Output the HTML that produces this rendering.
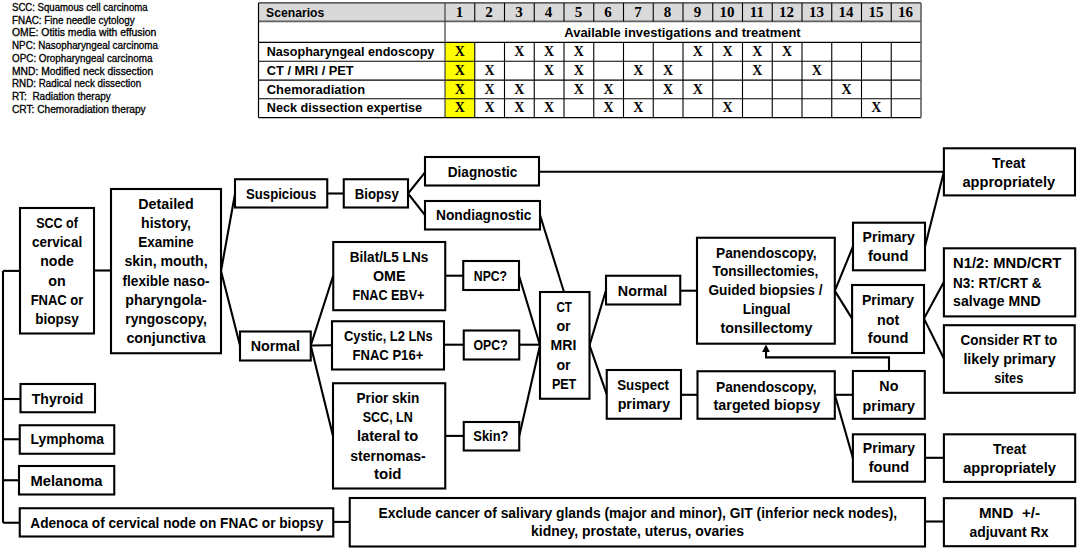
<!DOCTYPE html>
<html><head><meta charset="utf-8"><style>
html,body{margin:0;padding:0;background:#fff;}
body{width:1077px;height:548px;overflow:hidden;font-family:"Liberation Sans", sans-serif;}
svg{display:block;}
</style></head><body>
<svg width="1077" height="548" viewBox="0 0 1077 548">
<text x="12.00" y="11.00" text-anchor="start" font-size="10" font-weight="normal" font-family='"Liberation Sans", sans-serif' fill="#000" textLength="135.60" lengthAdjust="spacingAndGlyphs" stroke="#000" stroke-width="0.3" xml:space="preserve">SCC: Squamous cell carcinoma</text>
<text x="12.00" y="23.73" text-anchor="start" font-size="10" font-weight="normal" font-family='"Liberation Sans", sans-serif' fill="#000" textLength="122.60" lengthAdjust="spacingAndGlyphs" stroke="#000" stroke-width="0.3" xml:space="preserve">FNAC: Fine needle cytology</text>
<text x="12.00" y="36.46" text-anchor="start" font-size="10" font-weight="normal" font-family='"Liberation Sans", sans-serif' fill="#000" textLength="144.30" lengthAdjust="spacingAndGlyphs" stroke="#000" stroke-width="0.3" xml:space="preserve">OME: Otitis media with effusion</text>
<text x="12.00" y="49.19" text-anchor="start" font-size="10" font-weight="normal" font-family='"Liberation Sans", sans-serif' fill="#000" textLength="146.00" lengthAdjust="spacingAndGlyphs" stroke="#000" stroke-width="0.3" xml:space="preserve">NPC: Nasopharyngeal carcinoma</text>
<text x="12.00" y="61.92" text-anchor="start" font-size="10" font-weight="normal" font-family='"Liberation Sans", sans-serif' fill="#000" textLength="140.40" lengthAdjust="spacingAndGlyphs" stroke="#000" stroke-width="0.3" xml:space="preserve">OPC: Oropharyngeal carcinoma</text>
<text x="12.00" y="74.65" text-anchor="start" font-size="10" font-weight="normal" font-family='"Liberation Sans", sans-serif' fill="#000" textLength="141.30" lengthAdjust="spacingAndGlyphs" stroke="#000" stroke-width="0.3" xml:space="preserve">MND: Modified neck dissection</text>
<text x="12.00" y="87.38" text-anchor="start" font-size="10" font-weight="normal" font-family='"Liberation Sans", sans-serif' fill="#000" textLength="129.20" lengthAdjust="spacingAndGlyphs" stroke="#000" stroke-width="0.3" xml:space="preserve">RND: Radical neck dissection</text>
<text x="12.00" y="100.11" text-anchor="start" font-size="10" font-weight="normal" font-family='"Liberation Sans", sans-serif' fill="#000" textLength="98.80" lengthAdjust="spacingAndGlyphs" stroke="#000" stroke-width="0.3" xml:space="preserve">RT:  Radiation therapy</text>
<text x="12.00" y="112.84" text-anchor="start" font-size="10" font-weight="normal" font-family='"Liberation Sans", sans-serif' fill="#000" textLength="133.70" lengthAdjust="spacingAndGlyphs" stroke="#000" stroke-width="0.3" xml:space="preserve">CRT: Chemoradiation therapy</text>
<rect x="258.5" y="2.9" width="662.5" height="18.5" fill="#d9d9d9"/>
<rect x="445" y="42.4" width="29.75" height="75.19999999999999" fill="#ffff00"/>
<line x1="258.5" y1="2.9" x2="921" y2="2.9" stroke="#606060" stroke-width="1.9"/>
<line x1="258.5" y1="21.4" x2="921" y2="21.4" stroke="#606060" stroke-width="1.9"/>
<line x1="258.5" y1="42.4" x2="921" y2="42.4" stroke="#000" stroke-width="1.1"/>
<line x1="258.5" y1="61.3" x2="921" y2="61.3" stroke="#000" stroke-width="1.1"/>
<line x1="258.5" y1="80.1" x2="921" y2="80.1" stroke="#000" stroke-width="1.1"/>
<line x1="258.5" y1="98.8" x2="921" y2="98.8" stroke="#000" stroke-width="1.1"/>
<line x1="258.5" y1="117.6" x2="921" y2="117.6" stroke="#000" stroke-width="1.1"/>
<line x1="258.5" y1="2.9" x2="258.5" y2="117.6" stroke="#000" stroke-width="1.2"/>
<line x1="445" y1="2.9" x2="445" y2="117.6" stroke="#404040" stroke-width="1.2"/>
<line x1="921" y1="2.9" x2="921" y2="117.6" stroke="#606060" stroke-width="1.6"/>
<line x1="474.75" y1="2.9" x2="474.75" y2="21.4" stroke="#000" stroke-width="1.1"/>
<line x1="474.75" y1="42.4" x2="474.75" y2="117.6" stroke="#000" stroke-width="1.1"/>
<line x1="504.50" y1="2.9" x2="504.50" y2="21.4" stroke="#000" stroke-width="1.1"/>
<line x1="504.50" y1="42.4" x2="504.50" y2="117.6" stroke="#000" stroke-width="1.1"/>
<line x1="534.25" y1="2.9" x2="534.25" y2="21.4" stroke="#000" stroke-width="1.1"/>
<line x1="534.25" y1="42.4" x2="534.25" y2="117.6" stroke="#000" stroke-width="1.1"/>
<line x1="564.00" y1="2.9" x2="564.00" y2="21.4" stroke="#000" stroke-width="1.1"/>
<line x1="564.00" y1="42.4" x2="564.00" y2="117.6" stroke="#000" stroke-width="1.1"/>
<line x1="593.75" y1="2.9" x2="593.75" y2="21.4" stroke="#000" stroke-width="1.1"/>
<line x1="593.75" y1="42.4" x2="593.75" y2="117.6" stroke="#000" stroke-width="1.1"/>
<line x1="623.50" y1="2.9" x2="623.50" y2="21.4" stroke="#000" stroke-width="1.1"/>
<line x1="623.50" y1="42.4" x2="623.50" y2="117.6" stroke="#000" stroke-width="1.1"/>
<line x1="653.25" y1="2.9" x2="653.25" y2="21.4" stroke="#000" stroke-width="1.1"/>
<line x1="653.25" y1="42.4" x2="653.25" y2="117.6" stroke="#000" stroke-width="1.1"/>
<line x1="683.00" y1="2.9" x2="683.00" y2="21.4" stroke="#000" stroke-width="1.1"/>
<line x1="683.00" y1="42.4" x2="683.00" y2="117.6" stroke="#000" stroke-width="1.1"/>
<line x1="712.75" y1="2.9" x2="712.75" y2="21.4" stroke="#000" stroke-width="1.1"/>
<line x1="712.75" y1="42.4" x2="712.75" y2="117.6" stroke="#000" stroke-width="1.1"/>
<line x1="742.50" y1="2.9" x2="742.50" y2="21.4" stroke="#000" stroke-width="1.1"/>
<line x1="742.50" y1="42.4" x2="742.50" y2="117.6" stroke="#000" stroke-width="1.1"/>
<line x1="772.25" y1="2.9" x2="772.25" y2="21.4" stroke="#000" stroke-width="1.1"/>
<line x1="772.25" y1="42.4" x2="772.25" y2="117.6" stroke="#000" stroke-width="1.1"/>
<line x1="802.00" y1="2.9" x2="802.00" y2="21.4" stroke="#000" stroke-width="1.1"/>
<line x1="802.00" y1="42.4" x2="802.00" y2="117.6" stroke="#000" stroke-width="1.1"/>
<line x1="831.75" y1="2.9" x2="831.75" y2="21.4" stroke="#000" stroke-width="1.1"/>
<line x1="831.75" y1="42.4" x2="831.75" y2="117.6" stroke="#000" stroke-width="1.1"/>
<line x1="861.50" y1="2.9" x2="861.50" y2="21.4" stroke="#000" stroke-width="1.1"/>
<line x1="861.50" y1="42.4" x2="861.50" y2="117.6" stroke="#000" stroke-width="1.1"/>
<line x1="891.25" y1="2.9" x2="891.25" y2="21.4" stroke="#000" stroke-width="1.1"/>
<line x1="891.25" y1="42.4" x2="891.25" y2="117.6" stroke="#000" stroke-width="1.1"/>
<text x="266.00" y="16.70" text-anchor="start" font-size="12.8" font-weight="bold" font-family='"Liberation Sans", sans-serif' fill="#000" textLength="58.30" lengthAdjust="spacingAndGlyphs" xml:space="preserve">Scenarios</text>
<text x="564.30" y="37.00" text-anchor="start" font-size="12.8" font-weight="bold" font-family='"Liberation Sans", sans-serif' fill="#000" textLength="236.40" lengthAdjust="spacingAndGlyphs" xml:space="preserve">Available investigations and treatment</text>
<text x="266.80" y="55.90" text-anchor="start" font-size="12.8" font-weight="bold" font-family='"Liberation Sans", sans-serif' fill="#000" textLength="167.50" lengthAdjust="spacingAndGlyphs" xml:space="preserve">Nasopharyngeal endoscopy</text>
<text x="266.80" y="74.80" text-anchor="start" font-size="12.8" font-weight="bold" font-family='"Liberation Sans", sans-serif' fill="#000" textLength="86.90" lengthAdjust="spacingAndGlyphs" xml:space="preserve">CT / MRI / PET</text>
<text x="266.80" y="94.00" text-anchor="start" font-size="12.8" font-weight="bold" font-family='"Liberation Sans", sans-serif' fill="#000" textLength="98.30" lengthAdjust="spacingAndGlyphs" xml:space="preserve">Chemoradiation</text>
<text x="266.80" y="112.40" text-anchor="start" font-size="12.8" font-weight="bold" font-family='"Liberation Sans", sans-serif' fill="#000" textLength="155.20" lengthAdjust="spacingAndGlyphs" xml:space="preserve">Neck dissection expertise</text>
<text x="459.38" y="16.90" text-anchor="middle" font-size="15" font-weight="bold" font-family='"Liberation Serif", serif' fill="#000" xml:space="preserve">1</text>
<text x="489.12" y="16.90" text-anchor="middle" font-size="15" font-weight="bold" font-family='"Liberation Serif", serif' fill="#000" xml:space="preserve">2</text>
<text x="518.88" y="16.90" text-anchor="middle" font-size="15" font-weight="bold" font-family='"Liberation Serif", serif' fill="#000" xml:space="preserve">3</text>
<text x="548.62" y="16.90" text-anchor="middle" font-size="15" font-weight="bold" font-family='"Liberation Serif", serif' fill="#000" xml:space="preserve">4</text>
<text x="578.38" y="16.90" text-anchor="middle" font-size="15" font-weight="bold" font-family='"Liberation Serif", serif' fill="#000" xml:space="preserve">5</text>
<text x="608.12" y="16.90" text-anchor="middle" font-size="15" font-weight="bold" font-family='"Liberation Serif", serif' fill="#000" xml:space="preserve">6</text>
<text x="637.88" y="16.90" text-anchor="middle" font-size="15" font-weight="bold" font-family='"Liberation Serif", serif' fill="#000" xml:space="preserve">7</text>
<text x="667.62" y="16.90" text-anchor="middle" font-size="15" font-weight="bold" font-family='"Liberation Serif", serif' fill="#000" xml:space="preserve">8</text>
<text x="697.38" y="16.90" text-anchor="middle" font-size="15" font-weight="bold" font-family='"Liberation Serif", serif' fill="#000" xml:space="preserve">9</text>
<text x="727.12" y="16.90" text-anchor="middle" font-size="15" font-weight="bold" font-family='"Liberation Serif", serif' fill="#000" xml:space="preserve">10</text>
<text x="756.88" y="16.90" text-anchor="middle" font-size="15" font-weight="bold" font-family='"Liberation Serif", serif' fill="#000" xml:space="preserve">11</text>
<text x="786.62" y="16.90" text-anchor="middle" font-size="15" font-weight="bold" font-family='"Liberation Serif", serif' fill="#000" xml:space="preserve">12</text>
<text x="816.38" y="16.90" text-anchor="middle" font-size="15" font-weight="bold" font-family='"Liberation Serif", serif' fill="#000" xml:space="preserve">13</text>
<text x="846.12" y="16.90" text-anchor="middle" font-size="15" font-weight="bold" font-family='"Liberation Serif", serif' fill="#000" xml:space="preserve">14</text>
<text x="875.88" y="16.90" text-anchor="middle" font-size="15" font-weight="bold" font-family='"Liberation Serif", serif' fill="#000" xml:space="preserve">15</text>
<text x="905.62" y="16.90" text-anchor="middle" font-size="15" font-weight="bold" font-family='"Liberation Serif", serif' fill="#000" xml:space="preserve">16</text>
<text x="459.88" y="55.80" text-anchor="middle" font-size="14" font-weight="bold" font-family='"Liberation Serif", serif' fill="#000" xml:space="preserve">X</text>
<text x="519.38" y="55.80" text-anchor="middle" font-size="14" font-weight="bold" font-family='"Liberation Serif", serif' fill="#000" xml:space="preserve">X</text>
<text x="549.12" y="55.80" text-anchor="middle" font-size="14" font-weight="bold" font-family='"Liberation Serif", serif' fill="#000" xml:space="preserve">X</text>
<text x="578.88" y="55.80" text-anchor="middle" font-size="14" font-weight="bold" font-family='"Liberation Serif", serif' fill="#000" xml:space="preserve">X</text>
<text x="697.88" y="55.80" text-anchor="middle" font-size="14" font-weight="bold" font-family='"Liberation Serif", serif' fill="#000" xml:space="preserve">X</text>
<text x="727.62" y="55.80" text-anchor="middle" font-size="14" font-weight="bold" font-family='"Liberation Serif", serif' fill="#000" xml:space="preserve">X</text>
<text x="757.38" y="55.80" text-anchor="middle" font-size="14" font-weight="bold" font-family='"Liberation Serif", serif' fill="#000" xml:space="preserve">X</text>
<text x="787.12" y="55.80" text-anchor="middle" font-size="14" font-weight="bold" font-family='"Liberation Serif", serif' fill="#000" xml:space="preserve">X</text>
<text x="459.88" y="74.70" text-anchor="middle" font-size="14" font-weight="bold" font-family='"Liberation Serif", serif' fill="#000" xml:space="preserve">X</text>
<text x="489.62" y="74.70" text-anchor="middle" font-size="14" font-weight="bold" font-family='"Liberation Serif", serif' fill="#000" xml:space="preserve">X</text>
<text x="549.12" y="74.70" text-anchor="middle" font-size="14" font-weight="bold" font-family='"Liberation Serif", serif' fill="#000" xml:space="preserve">X</text>
<text x="578.88" y="74.70" text-anchor="middle" font-size="14" font-weight="bold" font-family='"Liberation Serif", serif' fill="#000" xml:space="preserve">X</text>
<text x="638.38" y="74.70" text-anchor="middle" font-size="14" font-weight="bold" font-family='"Liberation Serif", serif' fill="#000" xml:space="preserve">X</text>
<text x="668.12" y="74.70" text-anchor="middle" font-size="14" font-weight="bold" font-family='"Liberation Serif", serif' fill="#000" xml:space="preserve">X</text>
<text x="757.38" y="74.70" text-anchor="middle" font-size="14" font-weight="bold" font-family='"Liberation Serif", serif' fill="#000" xml:space="preserve">X</text>
<text x="816.88" y="74.70" text-anchor="middle" font-size="14" font-weight="bold" font-family='"Liberation Serif", serif' fill="#000" xml:space="preserve">X</text>
<text x="459.88" y="93.50" text-anchor="middle" font-size="14" font-weight="bold" font-family='"Liberation Serif", serif' fill="#000" xml:space="preserve">X</text>
<text x="489.62" y="93.50" text-anchor="middle" font-size="14" font-weight="bold" font-family='"Liberation Serif", serif' fill="#000" xml:space="preserve">X</text>
<text x="519.38" y="93.50" text-anchor="middle" font-size="14" font-weight="bold" font-family='"Liberation Serif", serif' fill="#000" xml:space="preserve">X</text>
<text x="578.88" y="93.50" text-anchor="middle" font-size="14" font-weight="bold" font-family='"Liberation Serif", serif' fill="#000" xml:space="preserve">X</text>
<text x="608.62" y="93.50" text-anchor="middle" font-size="14" font-weight="bold" font-family='"Liberation Serif", serif' fill="#000" xml:space="preserve">X</text>
<text x="668.12" y="93.50" text-anchor="middle" font-size="14" font-weight="bold" font-family='"Liberation Serif", serif' fill="#000" xml:space="preserve">X</text>
<text x="697.88" y="93.50" text-anchor="middle" font-size="14" font-weight="bold" font-family='"Liberation Serif", serif' fill="#000" xml:space="preserve">X</text>
<text x="846.62" y="93.50" text-anchor="middle" font-size="14" font-weight="bold" font-family='"Liberation Serif", serif' fill="#000" xml:space="preserve">X</text>
<text x="459.88" y="112.20" text-anchor="middle" font-size="14" font-weight="bold" font-family='"Liberation Serif", serif' fill="#000" xml:space="preserve">X</text>
<text x="489.62" y="112.20" text-anchor="middle" font-size="14" font-weight="bold" font-family='"Liberation Serif", serif' fill="#000" xml:space="preserve">X</text>
<text x="519.38" y="112.20" text-anchor="middle" font-size="14" font-weight="bold" font-family='"Liberation Serif", serif' fill="#000" xml:space="preserve">X</text>
<text x="549.12" y="112.20" text-anchor="middle" font-size="14" font-weight="bold" font-family='"Liberation Serif", serif' fill="#000" xml:space="preserve">X</text>
<text x="608.62" y="112.20" text-anchor="middle" font-size="14" font-weight="bold" font-family='"Liberation Serif", serif' fill="#000" xml:space="preserve">X</text>
<text x="638.38" y="112.20" text-anchor="middle" font-size="14" font-weight="bold" font-family='"Liberation Serif", serif' fill="#000" xml:space="preserve">X</text>
<text x="727.62" y="112.20" text-anchor="middle" font-size="14" font-weight="bold" font-family='"Liberation Serif", serif' fill="#000" xml:space="preserve">X</text>
<text x="876.38" y="112.20" text-anchor="middle" font-size="14" font-weight="bold" font-family='"Liberation Serif", serif' fill="#000" xml:space="preserve">X</text>
<polyline points="3,270.9 3,522.75" fill="none" stroke="#000" stroke-width="2.1" stroke-linejoin="miter"/>
<polyline points="3,270.9 20,270.9" fill="none" stroke="#000" stroke-width="2.1" stroke-linejoin="miter"/>
<polyline points="3,399 20.5,399" fill="none" stroke="#000" stroke-width="2.1" stroke-linejoin="miter"/>
<polyline points="3,439.25 19.75,439.25" fill="none" stroke="#000" stroke-width="2.1" stroke-linejoin="miter"/>
<polyline points="3,480.25 19,480.25" fill="none" stroke="#000" stroke-width="2.1" stroke-linejoin="miter"/>
<polyline points="3,522.75 19.75,522.75" fill="none" stroke="#000" stroke-width="2.1" stroke-linejoin="miter"/>
<polyline points="94,270.5 111,270.5" fill="none" stroke="#000" stroke-width="2.1" stroke-linejoin="miter"/>
<polyline points="235,194 221,271 240,345.5" fill="none" stroke="#000" stroke-width="2.1" stroke-linejoin="miter"/>
<polyline points="327.25,193.5 343.75,193.5" fill="none" stroke="#000" stroke-width="2.1" stroke-linejoin="miter"/>
<polyline points="425,172.3 408,193.5 425,215.2" fill="none" stroke="#000" stroke-width="2.1" stroke-linejoin="miter"/>
<polyline points="539,171.8 943.9,171.8" fill="none" stroke="#000" stroke-width="2.1" stroke-linejoin="miter"/>
<polyline points="540,215 564,292" fill="none" stroke="#000" stroke-width="2.1" stroke-linejoin="miter"/>
<polyline points="333.25,275.5 310.75,345.5 333,435.9" fill="none" stroke="#000" stroke-width="2.1" stroke-linejoin="miter"/>
<polyline points="310.75,345.5 332,345.2" fill="none" stroke="#000" stroke-width="2.1" stroke-linejoin="miter"/>
<polyline points="445.25,275.7 463.25,275.7" fill="none" stroke="#000" stroke-width="2.1" stroke-linejoin="miter"/>
<polyline points="444,344.7 463.75,344.7" fill="none" stroke="#000" stroke-width="2.1" stroke-linejoin="miter"/>
<polyline points="445.25,435.9 463.75,435.9" fill="none" stroke="#000" stroke-width="2.1" stroke-linejoin="miter"/>
<polyline points="519,275.7 540,345.3 519.25,436" fill="none" stroke="#000" stroke-width="2.1" stroke-linejoin="miter"/>
<polyline points="519.25,344.7 540,344.7" fill="none" stroke="#000" stroke-width="2.1" stroke-linejoin="miter"/>
<polyline points="606,290.2 589.5,345.3 606.75,394.4" fill="none" stroke="#000" stroke-width="2.1" stroke-linejoin="miter"/>
<polyline points="680.25,290.7 697,290.7" fill="none" stroke="#000" stroke-width="2.1" stroke-linejoin="miter"/>
<polyline points="681,394.8 697.5,394.8" fill="none" stroke="#000" stroke-width="2.1" stroke-linejoin="miter"/>
<polyline points="853,246.5 834.8,290.8 852.1,318.6" fill="none" stroke="#000" stroke-width="2.1" stroke-linejoin="miter"/>
<polyline points="925,246.5 943.9,171.8" fill="none" stroke="#000" stroke-width="2.1" stroke-linejoin="miter"/>
<polyline points="944,281.8 924,318.6 944,358.8" fill="none" stroke="#000" stroke-width="2.1" stroke-linejoin="miter"/>
<polyline points="834.8,394.8 852.9,394.8" fill="none" stroke="#000" stroke-width="2.1" stroke-linejoin="miter"/>
<polyline points="834.8,394.8 852.9,458" fill="none" stroke="#000" stroke-width="2.1" stroke-linejoin="miter"/>
<polyline points="925,457.8 943.9,457.8" fill="none" stroke="#000" stroke-width="2.1" stroke-linejoin="miter"/>
<polyline points="889,371 889,357.4 766,357.4 766,350" fill="none" stroke="#000" stroke-width="2.1" stroke-linejoin="miter"/>
<polygon points="766,344.6 762.1,351.9 769.9,351.9" fill="#000"/>
<polyline points="333.25,521.9 349.75,521.9" fill="none" stroke="#000" stroke-width="2.1" stroke-linejoin="miter"/>
<polyline points="925,521.5 943.9,521.5" fill="none" stroke="#000" stroke-width="2.1" stroke-linejoin="miter"/>
<rect x="20" y="208" width="74.00" height="125.50" fill="#fff" stroke="#000" stroke-width="2.1"/>
<rect x="111" y="189" width="110.00" height="164.25" fill="#fff" stroke="#000" stroke-width="2.1"/>
<rect x="235" y="179.25" width="92.25" height="28.25" fill="#fff" stroke="#000" stroke-width="2.1"/>
<rect x="343.75" y="179.25" width="64.25" height="28.25" fill="#fff" stroke="#000" stroke-width="2.1"/>
<rect x="425" y="157" width="114.00" height="28.50" fill="#fff" stroke="#000" stroke-width="2.1"/>
<rect x="425" y="201" width="115.00" height="28.50" fill="#fff" stroke="#000" stroke-width="2.1"/>
<rect x="240" y="331.5" width="70.75" height="29.00" fill="#fff" stroke="#000" stroke-width="2.1"/>
<rect x="333.25" y="242" width="112.00" height="68.20" fill="#fff" stroke="#000" stroke-width="2.1"/>
<rect x="463.25" y="261" width="55.75" height="29.00" fill="#fff" stroke="#000" stroke-width="2.1"/>
<rect x="332" y="321.25" width="112.00" height="48.25" fill="#fff" stroke="#000" stroke-width="2.1"/>
<rect x="463.75" y="330.5" width="55.50" height="29.00" fill="#fff" stroke="#000" stroke-width="2.1"/>
<rect x="333" y="383.25" width="112.25" height="105.25" fill="#fff" stroke="#000" stroke-width="2.1"/>
<rect x="463.75" y="422" width="55.50" height="28.50" fill="#fff" stroke="#000" stroke-width="2.1"/>
<rect x="540" y="292" width="49.50" height="106.75" fill="#fff" stroke="#000" stroke-width="2.1"/>
<rect x="606" y="275.75" width="74.25" height="28.75" fill="#fff" stroke="#000" stroke-width="2.1"/>
<rect x="697" y="237.75" width="137.80" height="105.95" fill="#fff" stroke="#000" stroke-width="2.1"/>
<rect x="606.75" y="370" width="74.25" height="48.75" fill="#fff" stroke="#000" stroke-width="2.1"/>
<rect x="697.5" y="371.25" width="137.30" height="47.50" fill="#fff" stroke="#000" stroke-width="2.1"/>
<rect x="853" y="222.7" width="72.00" height="47.60" fill="#fff" stroke="#000" stroke-width="2.1"/>
<rect x="852.1" y="285" width="71.90" height="68.00" fill="#fff" stroke="#000" stroke-width="2.1"/>
<rect x="852.9" y="371" width="71.90" height="47.80" fill="#fff" stroke="#000" stroke-width="2.1"/>
<rect x="852.9" y="434.3" width="72.10" height="47.40" fill="#fff" stroke="#000" stroke-width="2.1"/>
<rect x="943.9" y="148.3" width="131.10" height="47.10" fill="#fff" stroke="#000" stroke-width="2.1"/>
<rect x="943.9" y="248.3" width="131.30" height="68.10" fill="#fff" stroke="#000" stroke-width="2.1"/>
<rect x="943.9" y="325.2" width="130.80" height="67.60" fill="#fff" stroke="#000" stroke-width="2.1"/>
<rect x="943.9" y="434.3" width="131.30" height="47.60" fill="#fff" stroke="#000" stroke-width="2.1"/>
<rect x="943.9" y="498.2" width="131.30" height="48.00" fill="#fff" stroke="#000" stroke-width="2.1"/>
<rect x="349.75" y="498" width="575.25" height="48.50" fill="#fff" stroke="#000" stroke-width="2.1"/>
<rect x="20.5" y="384" width="74.50" height="28.25" fill="#fff" stroke="#000" stroke-width="2.1"/>
<rect x="19.75" y="425.25" width="94.50" height="28.50" fill="#fff" stroke="#000" stroke-width="2.1"/>
<rect x="19" y="466" width="95.25" height="28.50" fill="#fff" stroke="#000" stroke-width="2.1"/>
<rect x="19.75" y="508.25" width="313.50" height="28.25" fill="#fff" stroke="#000" stroke-width="2.1"/>
<text x="57.00" y="228.00" text-anchor="middle" font-size="14.3" font-weight="bold" font-family='"Liberation Sans", sans-serif' fill="#000" textLength="41.75" lengthAdjust="spacingAndGlyphs" xml:space="preserve">SCC of</text>
<text x="57.00" y="247.00" text-anchor="middle" font-size="14.3" font-weight="bold" font-family='"Liberation Sans", sans-serif' fill="#000" textLength="50.25" lengthAdjust="spacingAndGlyphs" xml:space="preserve">cervical</text>
<text x="57.00" y="265.80" text-anchor="middle" font-size="14.3" font-weight="bold" font-family='"Liberation Sans", sans-serif' fill="#000" textLength="33.50" lengthAdjust="spacingAndGlyphs" xml:space="preserve">node</text>
<text x="57.00" y="286.30" text-anchor="middle" font-size="14.3" font-weight="bold" font-family='"Liberation Sans", sans-serif' fill="#000" xml:space="preserve">on</text>
<text x="57.00" y="304.50" text-anchor="middle" font-size="14.3" font-weight="bold" font-family='"Liberation Sans", sans-serif' fill="#000" textLength="52.75" lengthAdjust="spacingAndGlyphs" xml:space="preserve">FNAC or</text>
<text x="57.00" y="323.75" text-anchor="middle" font-size="14.3" font-weight="bold" font-family='"Liberation Sans", sans-serif' fill="#000" textLength="43.75" lengthAdjust="spacingAndGlyphs" xml:space="preserve">biopsy</text>
<text x="166.00" y="208.80" text-anchor="middle" font-size="14.3" font-weight="bold" font-family='"Liberation Sans", sans-serif' fill="#000" textLength="55.50" lengthAdjust="spacingAndGlyphs" xml:space="preserve">Detailed</text>
<text x="166.00" y="228.00" text-anchor="middle" font-size="14.3" font-weight="bold" font-family='"Liberation Sans", sans-serif' fill="#000" textLength="50.00" lengthAdjust="spacingAndGlyphs" xml:space="preserve">history,</text>
<text x="166.00" y="247.20" text-anchor="middle" font-size="14.3" font-weight="bold" font-family='"Liberation Sans", sans-serif' fill="#000" textLength="55.50" lengthAdjust="spacingAndGlyphs" xml:space="preserve">Examine</text>
<text x="166.00" y="266.40" text-anchor="middle" font-size="14.3" font-weight="bold" font-family='"Liberation Sans", sans-serif' fill="#000" textLength="83.25" lengthAdjust="spacingAndGlyphs" xml:space="preserve">skin, mouth,</text>
<text x="166.00" y="285.60" text-anchor="middle" font-size="14.3" font-weight="bold" font-family='"Liberation Sans", sans-serif' fill="#000" textLength="87.00" lengthAdjust="spacingAndGlyphs" xml:space="preserve">flexible naso-</text>
<text x="166.00" y="304.80" text-anchor="middle" font-size="14.3" font-weight="bold" font-family='"Liberation Sans", sans-serif' fill="#000" textLength="81.50" lengthAdjust="spacingAndGlyphs" xml:space="preserve">pharyngola-</text>
<text x="166.00" y="324.00" text-anchor="middle" font-size="14.3" font-weight="bold" font-family='"Liberation Sans", sans-serif' fill="#000" textLength="81.50" lengthAdjust="spacingAndGlyphs" xml:space="preserve">ryngoscopy,</text>
<text x="166.00" y="343.20" text-anchor="middle" font-size="14.3" font-weight="bold" font-family='"Liberation Sans", sans-serif' fill="#000" textLength="79.25" lengthAdjust="spacingAndGlyphs" xml:space="preserve">conjunctiva</text>
<text x="281.12" y="198.75" text-anchor="middle" font-size="14.3" font-weight="bold" font-family='"Liberation Sans", sans-serif' fill="#000" textLength="70.20" lengthAdjust="spacingAndGlyphs" xml:space="preserve">Suspicious</text>
<text x="376.75" y="198.75" text-anchor="middle" font-size="14.3" font-weight="bold" font-family='"Liberation Sans", sans-serif' fill="#000" textLength="44.00" lengthAdjust="spacingAndGlyphs" xml:space="preserve">Biopsy</text>
<text x="482.50" y="177.00" text-anchor="middle" font-size="14.3" font-weight="bold" font-family='"Liberation Sans", sans-serif' fill="#000" textLength="69.50" lengthAdjust="spacingAndGlyphs" xml:space="preserve">Diagnostic</text>
<text x="483.75" y="219.50" text-anchor="middle" font-size="14.3" font-weight="bold" font-family='"Liberation Sans", sans-serif' fill="#000" textLength="95.50" lengthAdjust="spacingAndGlyphs" xml:space="preserve">Nondiagnostic</text>
<text x="275.38" y="350.75" text-anchor="middle" font-size="14.3" font-weight="bold" font-family='"Liberation Sans", sans-serif' fill="#000" textLength="49.40" lengthAdjust="spacingAndGlyphs" xml:space="preserve">Normal</text>
<text x="389.00" y="261.75" text-anchor="middle" font-size="14.3" font-weight="bold" font-family='"Liberation Sans", sans-serif' fill="#000" textLength="78.50" lengthAdjust="spacingAndGlyphs" xml:space="preserve">Bilat/L5 LNs</text>
<text x="389.25" y="281.00" text-anchor="middle" font-size="14.3" font-weight="bold" font-family='"Liberation Sans", sans-serif' fill="#000" xml:space="preserve">OME</text>
<text x="388.50" y="300.25" text-anchor="middle" font-size="14.3" font-weight="bold" font-family='"Liberation Sans", sans-serif' fill="#000" textLength="72.00" lengthAdjust="spacingAndGlyphs" xml:space="preserve">FNAC EBV+</text>
<text x="490.45" y="281.40" text-anchor="middle" font-size="14.3" font-weight="bold" font-family='"Liberation Sans", sans-serif' fill="#000" textLength="33.30" lengthAdjust="spacingAndGlyphs" xml:space="preserve">NPC?</text>
<text x="388.40" y="340.75" text-anchor="middle" font-size="14.3" font-weight="bold" font-family='"Liberation Sans", sans-serif' fill="#000" textLength="88.75" lengthAdjust="spacingAndGlyphs" xml:space="preserve">Cystic, L2 LNs</text>
<text x="387.90" y="359.50" text-anchor="middle" font-size="14.3" font-weight="bold" font-family='"Liberation Sans", sans-serif' fill="#000" textLength="70.75" lengthAdjust="spacingAndGlyphs" xml:space="preserve">FNAC P16+</text>
<text x="490.60" y="349.50" text-anchor="middle" font-size="14.3" font-weight="bold" font-family='"Liberation Sans", sans-serif' fill="#000" textLength="34.25" lengthAdjust="spacingAndGlyphs" xml:space="preserve">OPC?</text>
<text x="387.90" y="402.50" text-anchor="middle" font-size="14.3" font-weight="bold" font-family='"Liberation Sans", sans-serif' fill="#000" textLength="62.75" lengthAdjust="spacingAndGlyphs" xml:space="preserve">Prior skin</text>
<text x="387.75" y="421.75" text-anchor="middle" font-size="14.3" font-weight="bold" font-family='"Liberation Sans", sans-serif' fill="#000" textLength="50.00" lengthAdjust="spacingAndGlyphs" xml:space="preserve">SCC, LN</text>
<text x="387.60" y="440.50" text-anchor="middle" font-size="14.3" font-weight="bold" font-family='"Liberation Sans", sans-serif' fill="#000" textLength="61.25" lengthAdjust="spacingAndGlyphs" xml:space="preserve">lateral to</text>
<text x="388.00" y="460.50" text-anchor="middle" font-size="14.3" font-weight="bold" font-family='"Liberation Sans", sans-serif' fill="#000" textLength="75.50" lengthAdjust="spacingAndGlyphs" xml:space="preserve">sternomas-</text>
<text x="387.75" y="479.25" text-anchor="middle" font-size="14.3" font-weight="bold" font-family='"Liberation Sans", sans-serif' fill="#000" textLength="27.50" lengthAdjust="spacingAndGlyphs" xml:space="preserve">toid</text>
<text x="490.90" y="441.00" text-anchor="middle" font-size="14.3" font-weight="bold" font-family='"Liberation Sans", sans-serif' fill="#000" textLength="35.25" lengthAdjust="spacingAndGlyphs" xml:space="preserve">Skin?</text>
<text x="564.10" y="312.00" text-anchor="middle" font-size="14.3" font-weight="bold" font-family='"Liberation Sans", sans-serif' fill="#000" textLength="15.40" lengthAdjust="spacingAndGlyphs" xml:space="preserve">CT</text>
<text x="563.50" y="330.75" text-anchor="middle" font-size="14.3" font-weight="bold" font-family='"Liberation Sans", sans-serif' fill="#000" textLength="14.20" lengthAdjust="spacingAndGlyphs" xml:space="preserve">or</text>
<text x="563.50" y="350.00" text-anchor="middle" font-size="14.3" font-weight="bold" font-family='"Liberation Sans", sans-serif' fill="#000" textLength="25.80" lengthAdjust="spacingAndGlyphs" xml:space="preserve">MRI</text>
<text x="563.50" y="369.80" text-anchor="middle" font-size="14.3" font-weight="bold" font-family='"Liberation Sans", sans-serif' fill="#000" textLength="14.20" lengthAdjust="spacingAndGlyphs" xml:space="preserve">or</text>
<text x="564.10" y="388.50" text-anchor="middle" font-size="14.3" font-weight="bold" font-family='"Liberation Sans", sans-serif' fill="#000" textLength="24.40" lengthAdjust="spacingAndGlyphs" xml:space="preserve">PET</text>
<text x="642.50" y="295.90" text-anchor="middle" font-size="14.3" font-weight="bold" font-family='"Liberation Sans", sans-serif' fill="#000" textLength="49.40" lengthAdjust="spacingAndGlyphs" xml:space="preserve">Normal</text>
<text x="766.30" y="257.80" text-anchor="middle" font-size="14.3" font-weight="bold" font-family='"Liberation Sans", sans-serif' fill="#000" textLength="100.60" lengthAdjust="spacingAndGlyphs" xml:space="preserve">Panendoscopy,</text>
<text x="765.50" y="276.10" text-anchor="middle" font-size="14.3" font-weight="bold" font-family='"Liberation Sans", sans-serif' fill="#000" textLength="105.80" lengthAdjust="spacingAndGlyphs" xml:space="preserve">Tonsillectomies,</text>
<text x="765.45" y="294.90" text-anchor="middle" font-size="14.3" font-weight="bold" font-family='"Liberation Sans", sans-serif' fill="#000" textLength="114.10" lengthAdjust="spacingAndGlyphs" xml:space="preserve">Guided biopsies /</text>
<text x="766.65" y="314.30" text-anchor="middle" font-size="14.3" font-weight="bold" font-family='"Liberation Sans", sans-serif' fill="#000" textLength="47.90" lengthAdjust="spacingAndGlyphs" xml:space="preserve">Lingual</text>
<text x="766.50" y="333.40" text-anchor="middle" font-size="14.3" font-weight="bold" font-family='"Liberation Sans", sans-serif' fill="#000" textLength="92.00" lengthAdjust="spacingAndGlyphs" xml:space="preserve">tonsillectomy</text>
<text x="643.10" y="390.00" text-anchor="middle" font-size="14.3" font-weight="bold" font-family='"Liberation Sans", sans-serif' fill="#000" textLength="51.75" lengthAdjust="spacingAndGlyphs" xml:space="preserve">Suspect</text>
<text x="643.88" y="408.75" text-anchor="middle" font-size="14.3" font-weight="bold" font-family='"Liberation Sans", sans-serif' fill="#000" xml:space="preserve">primary</text>
<text x="766.30" y="392.40" text-anchor="middle" font-size="14.3" font-weight="bold" font-family='"Liberation Sans", sans-serif' fill="#000" textLength="100.60" lengthAdjust="spacingAndGlyphs" xml:space="preserve">Panendoscopy,</text>
<text x="766.85" y="410.40" text-anchor="middle" font-size="14.3" font-weight="bold" font-family='"Liberation Sans", sans-serif' fill="#000" textLength="106.50" lengthAdjust="spacingAndGlyphs" xml:space="preserve">targeted biopsy</text>
<text x="888.70" y="241.50" text-anchor="middle" font-size="14.3" font-weight="bold" font-family='"Liberation Sans", sans-serif' fill="#000" textLength="52.20" lengthAdjust="spacingAndGlyphs" xml:space="preserve">Primary</text>
<text x="888.20" y="260.60" text-anchor="middle" font-size="14.3" font-weight="bold" font-family='"Liberation Sans", sans-serif' fill="#000" textLength="40.50" lengthAdjust="spacingAndGlyphs" xml:space="preserve">found</text>
<text x="888.05" y="304.60" text-anchor="middle" font-size="14.3" font-weight="bold" font-family='"Liberation Sans", sans-serif' fill="#000" textLength="52.20" lengthAdjust="spacingAndGlyphs" xml:space="preserve">Primary</text>
<text x="888.05" y="324.60" text-anchor="middle" font-size="14.3" font-weight="bold" font-family='"Liberation Sans", sans-serif' fill="#000" xml:space="preserve">not</text>
<text x="888.05" y="343.40" text-anchor="middle" font-size="14.3" font-weight="bold" font-family='"Liberation Sans", sans-serif' fill="#000" textLength="40.50" lengthAdjust="spacingAndGlyphs" xml:space="preserve">found</text>
<text x="888.85" y="391.30" text-anchor="middle" font-size="14.3" font-weight="bold" font-family='"Liberation Sans", sans-serif' fill="#000" xml:space="preserve">No</text>
<text x="888.85" y="410.50" text-anchor="middle" font-size="14.3" font-weight="bold" font-family='"Liberation Sans", sans-serif' fill="#000" xml:space="preserve">primary</text>
<text x="888.95" y="453.10" text-anchor="middle" font-size="14.3" font-weight="bold" font-family='"Liberation Sans", sans-serif' fill="#000" textLength="52.20" lengthAdjust="spacingAndGlyphs" xml:space="preserve">Primary</text>
<text x="888.95" y="471.50" text-anchor="middle" font-size="14.3" font-weight="bold" font-family='"Liberation Sans", sans-serif' fill="#000" textLength="40.50" lengthAdjust="spacingAndGlyphs" xml:space="preserve">found</text>
<text x="1008.65" y="167.60" text-anchor="middle" font-size="14.3" font-weight="bold" font-family='"Liberation Sans", sans-serif' fill="#000" textLength="33.30" lengthAdjust="spacingAndGlyphs" xml:space="preserve">Treat</text>
<text x="1008.75" y="186.90" text-anchor="middle" font-size="14.3" font-weight="bold" font-family='"Liberation Sans", sans-serif' fill="#000" textLength="92.70" lengthAdjust="spacingAndGlyphs" xml:space="preserve">appropriately</text>
<text x="953.10" y="268.40" text-anchor="start" font-size="14.3" font-weight="bold" font-family='"Liberation Sans", sans-serif' fill="#000" textLength="108.30" lengthAdjust="spacingAndGlyphs" xml:space="preserve">N1/2: MND/CRT</text>
<text x="953.10" y="287.50" text-anchor="start" font-size="14.3" font-weight="bold" font-family='"Liberation Sans", sans-serif' fill="#000" textLength="88.30" lengthAdjust="spacingAndGlyphs" xml:space="preserve">N3: RT/CRT &amp;</text>
<text x="953.10" y="306.30" text-anchor="start" font-size="14.3" font-weight="bold" font-family='"Liberation Sans", sans-serif' fill="#000" textLength="87.50" lengthAdjust="spacingAndGlyphs" xml:space="preserve">salvage MND</text>
<text x="1008.80" y="344.70" text-anchor="middle" font-size="14.3" font-weight="bold" font-family='"Liberation Sans", sans-serif' fill="#000" textLength="96.80" lengthAdjust="spacingAndGlyphs" xml:space="preserve">Consider RT to</text>
<text x="1009.50" y="363.50" text-anchor="middle" font-size="14.3" font-weight="bold" font-family='"Liberation Sans", sans-serif' fill="#000" textLength="92.20" lengthAdjust="spacingAndGlyphs" xml:space="preserve">likely primary</text>
<text x="1008.75" y="382.60" text-anchor="middle" font-size="14.3" font-weight="bold" font-family='"Liberation Sans", sans-serif' fill="#000" textLength="29.00" lengthAdjust="spacingAndGlyphs" xml:space="preserve">sites</text>
<text x="1009.55" y="454.00" text-anchor="middle" font-size="14.3" font-weight="bold" font-family='"Liberation Sans", sans-serif' fill="#000" textLength="33.30" lengthAdjust="spacingAndGlyphs" xml:space="preserve">Treat</text>
<text x="1009.55" y="473.40" text-anchor="middle" font-size="14.3" font-weight="bold" font-family='"Liberation Sans", sans-serif' fill="#000" textLength="92.70" lengthAdjust="spacingAndGlyphs" xml:space="preserve">appropriately</text>
<text x="1009.50" y="517.50" text-anchor="middle" font-size="14.3" font-weight="bold" font-family='"Liberation Sans", sans-serif' fill="#000" textLength="61.00" lengthAdjust="spacingAndGlyphs" xml:space="preserve">MND  +/-</text>
<text x="1008.90" y="537.20" text-anchor="middle" font-size="14.3" font-weight="bold" font-family='"Liberation Sans", sans-serif' fill="#000" textLength="79.00" lengthAdjust="spacingAndGlyphs" xml:space="preserve">adjuvant Rx</text>
<text x="637.85" y="517.50" text-anchor="middle" font-size="14.3" font-weight="bold" font-family='"Liberation Sans", sans-serif' fill="#000" textLength="518.70" lengthAdjust="spacingAndGlyphs" xml:space="preserve">Exclude cancer of salivary glands (major and minor), GIT (inferior neck nodes),</text>
<text x="637.60" y="536.00" text-anchor="middle" font-size="14.3" font-weight="bold" font-family='"Liberation Sans", sans-serif' fill="#000" textLength="213.00" lengthAdjust="spacingAndGlyphs" xml:space="preserve">kidney, prostate, uterus, ovaries</text>
<text x="57.50" y="404.20" text-anchor="middle" font-size="14.3" font-weight="bold" font-family='"Liberation Sans", sans-serif' fill="#000" textLength="51.50" lengthAdjust="spacingAndGlyphs" xml:space="preserve">Thyroid</text>
<text x="67.25" y="444.25" text-anchor="middle" font-size="14.3" font-weight="bold" font-family='"Liberation Sans", sans-serif' fill="#000" textLength="73.50" lengthAdjust="spacingAndGlyphs" xml:space="preserve">Lymphoma</text>
<text x="66.50" y="486.00" text-anchor="middle" font-size="14.3" font-weight="bold" font-family='"Liberation Sans", sans-serif' fill="#000" textLength="72.00" lengthAdjust="spacingAndGlyphs" xml:space="preserve">Melanoma</text>
<text x="30.30" y="528.00" text-anchor="start" font-size="14.3" font-weight="bold" font-family='"Liberation Sans", sans-serif' fill="#000" textLength="293.00" lengthAdjust="spacingAndGlyphs" xml:space="preserve">Adenoca of cervical node on FNAC or biopsy</text>
</svg>
</body></html>
